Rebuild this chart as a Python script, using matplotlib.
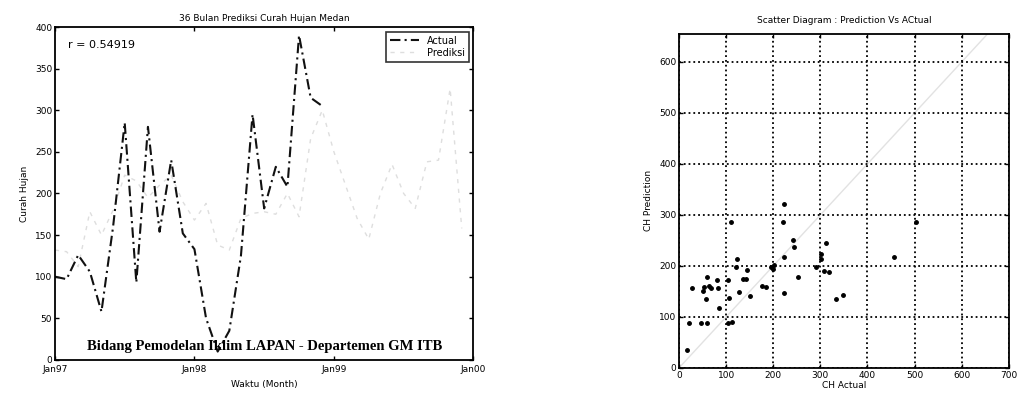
import matplotlib.pyplot as plt

# curah hujan bulanan (mm), bulan ke-0 = Jan 1997
actual = [100, 97, 126, 106, 58, 160, 285, 93, 280, 154, 240, 152,
          133, 50, 10, 35, 125, 295, 182, 232, 208, 390, 315, 305]
prediksi = [132, 130, 112, 178, 150, 180, 222, 215, 195, 210, 222, 190,
            168, 188, 138, 132, 170, 176, 178, 175, 200, 172, 266, 300,
            250, 210, 170, 145, 200, 235, 200, 182, 238, 240, 326, 158]
bulan_actual = list(range(len(actual)))
bulan_prediksi = list(range(len(prediksi)))
xtick_pos = [0, 12, 24, 36]
xtick_lbl = ['Jan97', 'Jan98', 'Jan99', 'Jan00']

# pasangan (CH actual, CH prediction) untuk diagram pencar
ch_actual = [18, 21, 28, 46, 60, 50, 53, 59, 57, 64, 67, 80, 82, 85, 103, 106,
             105, 113, 111, 120, 124, 127, 135, 142, 145, 151, 177, 184, 195,
             199, 202, 220, 223, 222, 223, 241, 243, 252, 291, 301, 301, 313,
             308, 319, 333, 348, 456, 504]
ch_pred = [36, 89, 157, 89, 89, 151, 159, 178, 136, 161, 157, 172, 157, 118,
           172, 138, 89, 91, 286, 197, 214, 148, 174, 174, 192, 141, 161, 159,
           197, 194, 202, 286, 322, 217, 146, 250, 237, 179, 197, 224, 214,
           245, 191, 188, 136, 143, 218, 286]

fig = plt.figure(figsize=(10.18, 4.03), dpi=100)
fs = 6.5

# ---- grafik deret waktu ----
ax1 = fig.add_axes([0.054, 0.107, 0.411, 0.826])
ax1.plot(bulan_prediksi, prediksi, color='#dedede', linestyle=(0, (3, 4)), linewidth=1.0, label='Prediksi')
ax1.plot(bulan_actual, actual, color='#111111', linestyle=(0, (5, 2, 1, 2)), linewidth=1.5, label='Actual')
ax1.set_xlim(0, 36)
ax1.set_ylim(0, 400)
ax1.set_xticks(xtick_pos)
ax1.set_xticklabels(xtick_lbl)
ax1.set_yticks(range(0, 401, 50))
ax1.tick_params(direction='in', top=True, right=True, labelsize=fs, length=3, width=1, pad=2)
ax1.tick_params(axis='x', pad=4)
for s in ax1.spines.values():
    s.set_linewidth(1.3)
ax1.set_title('36 Bulan Prediksi Curah Hujan Medan', fontsize=fs, pad=4)
ax1.set_xlabel('Waktu (Month)', fontsize=fs, labelpad=4)
ax1.set_ylabel('Curah Hujan', fontsize=fs, labelpad=4)
ax1.text(0.03, 0.945, 'r = 0.54919', transform=ax1.transAxes, fontsize=fs + 1.5, va='center')
ax1.text(0.5, 0.02, 'Bidang Pemodelan Iklim LAPAN - Departemen GM ITB', transform=ax1.transAxes,
         fontsize=10.5, family='Liberation Serif', fontweight='bold', ha='center', va='bottom')
h, l = ax1.get_legend_handles_labels()
leg = ax1.legend(h[::-1], l[::-1], loc='upper right', fontsize=fs + 0.5, frameon=True, fancybox=False,
                 edgecolor='k', handlelength=3.0, borderpad=0.4, labelspacing=0.2)
leg.get_frame().set_linewidth(1.2)

# ---- diagram pencar ----
ax2 = fig.add_axes([0.667, 0.087, 0.324, 0.829])
ax2.plot([0, 660], [0, 660], color='#e2e2e2', linewidth=1.0, zorder=1)
ax2.plot(ch_actual, ch_pred, 'k.', markersize=5, zorder=3)
ax2.set_xlim(0, 700)
ax2.set_ylim(0, 655)
ax2.set_xticks(range(0, 701, 100))
ax2.set_yticks(range(0, 601, 100))
ax2.grid(True, linestyle=':', color='k', linewidth=1.3)
ax2.tick_params(direction='in', top=True, right=True, labelsize=fs, length=3, width=1, pad=2)
for s in ax2.spines.values():
    s.set_linewidth(1.3)
ax2.set_title('Scatter Diagram : Prediction Vs ACtual', fontsize=fs, pad=8)
ax2.set_xlabel('CH Actual', fontsize=fs, labelpad=1)
ax2.set_ylabel('CH Prediction', fontsize=fs, labelpad=4)

fig.savefig('out.png', dpi=100)
